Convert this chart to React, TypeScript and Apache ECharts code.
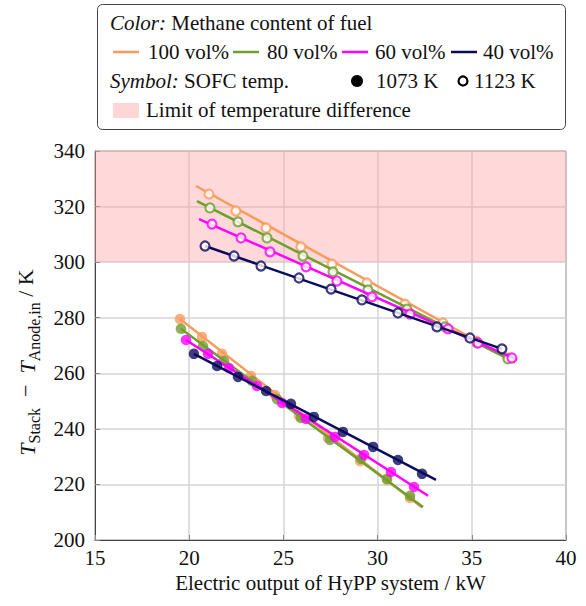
import React, { useEffect, useRef } from "react";
import * as echarts from "echarts";

const contents = ["100 vol%", "80 vol%", "60 vol%", "40 vol%"];
const tempLabels = ["1073 K", "1123 K"];
const xTicks = [15, 40, 5];
const yTicks = [200, 340, 20];
const limitBand = [300, 340];

// 1123 K (open symbols)
const hot100X = [21.05, 22.48, 24.08, 25.93, 27.58, 29.44, 31.45, 33.47, 35.22, 36.92];
const hot100Y = [324.5, 318.4, 312.3, 305.5, 299.3, 292.5, 284.9, 278.1, 271.6, 265.5];
const hot80X = [21.1, 22.59, 24.13, 26.04, 27.63, 29.49, 31.56, 33.58, 35.28, 36.92];
const hot80Y = [319.5, 314.5, 308.7, 302.2, 296.5, 290.0, 283.1, 276.7, 270.9, 265.2];
const hot60X = [21.21, 22.75, 24.29, 26.2, 27.84, 29.7, 31.72, 33.74, 35.33, 37.13];
const hot60Y = [313.7, 308.7, 303.7, 298.3, 293.2, 287.5, 281.3, 276.0, 270.9, 265.5];
const hot40X = [20.84, 22.38, 23.81, 25.83, 27.53, 29.17, 31.08, 33.15, 34.9, 36.6];
const hot40Y = [305.8, 302.2, 298.6, 294.3, 290.3, 286.4, 281.7, 276.7, 272.7, 268.8];

// 1073 K (filled symbols)
const cold100X = [19.51, 20.68, 21.74, 23.28, 24.55, 25.83, 27.37, 29.07, 30.5, 31.72];
const cold100Y = [279.5, 273.1, 267.0, 259.0, 252.2, 244.6, 236.7, 228.4, 221.6, 215.1];
const cold80X = [19.56, 20.73, 21.85, 23.33, 24.66, 25.93, 27.47, 29.12, 30.5, 31.72];
const cold80Y = [276.0, 269.8, 264.4, 257.2, 250.7, 243.9, 236.0, 229.2, 222.0, 215.9];
const cold60X = [19.83, 21.0, 22.11, 23.6, 24.93, 26.2, 27.74, 29.28, 30.71, 31.93];
const cold60Y = [272.0, 267.0, 261.9, 255.4, 249.3, 243.6, 237.1, 230.6, 224.5, 219.1];
const cold40X = [20.25, 21.48, 22.59, 24.08, 25.4, 26.62, 28.16, 29.76, 31.08, 32.36];
const cold40Y = [267.0, 262.6, 258.7, 253.6, 249.0, 244.3, 238.9, 233.5, 228.8, 223.8];

// linear fit lines (start, end)
const hotFit100 = [[20.36, 327.4], [37.3, 264.1]];
const hotFit80 = [[20.41, 322.0], [37.3, 263.9]];
const hotFit60 = [[20.52, 315.5], [37.4, 264.9]];
const hotFit40 = [[20.84, 305.8], [36.6, 268.8]];
const coldFit100 = [[19.51, 279.5], [32.36, 211.7]];
const coldFit80 = [[19.56, 276.0], [32.41, 211.9]];
const coldFit60 = [[19.83, 272.0], [32.68, 215.9]];
const coldFit40 = [[20.25, 267.0], [33.1, 221.6]];

const colors = ["#f99b5c", "#6f9f30", "#ff00ff", "#0b0b5e"];
const FONT = "Liberation Serif";
const FS = 21;

const zip = (xs: number[], ys: number[]) => xs.map((x, i) => [x, ys[i]]);

export default function App() {
  const ref = useRef<HTMLDivElement>(null);
  useEffect(() => {
    if (!ref.current) return;
    const chart = echarts.init(ref.current, null, { renderer: "svg" });
    const hot = [zip(hot100X, hot100Y), zip(hot80X, hot80Y), zip(hot60X, hot60Y), zip(hot40X, hot40Y)];
    const cold = [zip(cold100X, cold100Y), zip(cold80X, cold80Y), zip(cold60X, cold60Y), zip(cold40X, cold40Y)];
    const hotFits = [hotFit100, hotFit80, hotFit60, hotFit40];
    const coldFits = [coldFit100, coldFit80, coldFit60, coldFit40];

    const series: any[] = [
      {
        type: "line",
        data: [],
        silent: true,
        markArea: {
          silent: true,
          itemStyle: { color: "rgba(255,160,160,0.4)" },
          data: [[{ yAxis: limitBand[0] }, { yAxis: limitBand[1] }]],
        },
      },
    ];
    contents.forEach((name, i) => {
      series.push({
        name,
        type: "line",
        data: hotFits[i],
        showSymbol: false,
        silent: true,
        lineStyle: { color: colors[i], width: 2.5 },
        z: 3 + i,
      });
      series.push({
        name,
        type: "line",
        data: coldFits[i],
        showSymbol: false,
        silent: true,
        lineStyle: { color: colors[i], width: 2.5 },
        z: 3 + i,
      });
      series.push({
        name: name + " " + tempLabels[1],
        type: "scatter",
        data: hot[i],
        symbol: "circle",
        symbolSize: 9,
        itemStyle: { color: "#ffffff", borderColor: colors[i], borderWidth: 2.2 },
        z: 3 + i,
      });
      series.push({
        name: name + " " + tempLabels[0],
        type: "scatter",
        data: cold[i],
        symbol: "circle",
        symbolSize: 10.5,
        itemStyle: { color: colors[i] },
        z: 3 + i,
      });
    });

    const legendY = [23, 52, 81, 110];
    const lineItems = [
      { x1: 113, tx: 148 },
      { x1: 233, tx: 267 },
      { x1: 342, tx: 375 },
      { x1: 451, tx: 483 },
    ];
    const txt = (text: string, x: number, y: number, rich?: boolean) => ({
      type: "text",
      x,
      y,
      style: {
        text,
        fontFamily: FONT,
        fontSize: FS,
        fill: "#111",
        verticalAlign: "middle",
        rich: rich ? { i: { fontStyle: "italic", fontFamily: FONT, fontSize: FS, fill: "#111" } } : undefined,
      },
      z: 11,
    });
    const graphic: any[] = [
      {
        type: "rect",
        shape: { x: 97.5, y: 4.5, width: 468, height: 125, r: 5 },
        style: { fill: "#fff", stroke: "#444", lineWidth: 1 },
        z: 10,
      },
      txt("{i|Color:} Methane content of fuel", 110, legendY[0], true),
      txt("{i|Symbol:} SOFC temp.", 110, legendY[2], true),
      {
        type: "circle",
        shape: { cx: 357, cy: legendY[2], r: 6 },
        style: { fill: "#000" },
        z: 11,
      },
      txt(tempLabels[0], 376, legendY[2]),
      {
        type: "circle",
        shape: { cx: 463, cy: legendY[2], r: 4.5 },
        style: { fill: "#fff", stroke: "#000", lineWidth: 2.2 },
        z: 11,
      },
      txt(tempLabels[1], 474, legendY[2]),
      {
        type: "rect",
        shape: { x: 113, y: 103, width: 26, height: 15 },
        style: { fill: "#ffd6d6" },
        z: 11,
      },
      txt("Limit of temperature difference", 146, legendY[3]),
    ];
    contents.forEach((name, i) => {
      graphic.push({
        type: "line",
        shape: { x1: lineItems[i].x1, y1: legendY[1], x2: lineItems[i].x1 + 26, y2: legendY[1] },
        style: { stroke: colors[i], lineWidth: 2.5 },
        z: 11,
      });
      graphic.push(txt(name, lineItems[i].tx, legendY[1]));
    });

    chart.setOption({
      animation: false,
      backgroundColor: "#fff",
      textStyle: { fontFamily: FONT },
      grid: {
        left: 95,
        right: 20,
        top: 151,
        bottom: 66,
        show: true,
        borderColor: "#444",
        borderWidth: 1,
        backgroundColor: "transparent",
      },
      xAxis: {
        type: "value",
        min: xTicks[0],
        max: xTicks[1],
        interval: xTicks[2],
        name: "Electric output of HyPP system / kW",
        nameLocation: "middle",
        nameGap: 29,
        nameTextStyle: { fontFamily: FONT, fontSize: FS, color: "#111" },
        axisLine: { show: true, lineStyle: { color: "#444" } },
        axisTick: { show: true, inside: true, length: 5, lineStyle: { color: "#888" } },
        axisLabel: { fontFamily: FONT, fontSize: FS, color: "#111", margin: 7 },
        splitLine: { show: true, lineStyle: { color: "#d4d4d4", width: 1.5 } },
      },
      yAxis: {
        type: "value",
        min: yTicks[0],
        max: yTicks[1],
        interval: yTicks[2],
        name: "{it|T}{sub|Stack}  −  {it|T}{sub|Anode,in} / K",
        nameLocation: "middle",
        nameGap: 55,
        nameTextStyle: {
          fontFamily: FONT,
          fontSize: 22,
          color: "#111",
          padding: [0, 34, 0, 0],
          rich: {
            it: { fontStyle: "italic", fontSize: 22, fontFamily: FONT, lineHeight: 26, verticalAlign: "bottom" },
            sub: { fontSize: 16, fontFamily: FONT, verticalAlign: "bottom", lineHeight: 20, padding: [0, 0, -4, 0] },
          },
        },
        axisLine: { show: true, lineStyle: { color: "#444" } },
        axisTick: { show: true, inside: true, length: 5, lineStyle: { color: "#888" } },
        axisLabel: { fontFamily: FONT, fontSize: FS, color: "#111", margin: 10 },
        splitLine: { show: true, lineStyle: { color: "#d4d4d4", width: 1.5 } },
      },
      graphic,
      series,
    });
    return () => chart.dispose();
  }, []);
  return <div ref={ref} style={{ width: 586, height: 606, position: "absolute", left: 0, top: 0 }} />;
}
